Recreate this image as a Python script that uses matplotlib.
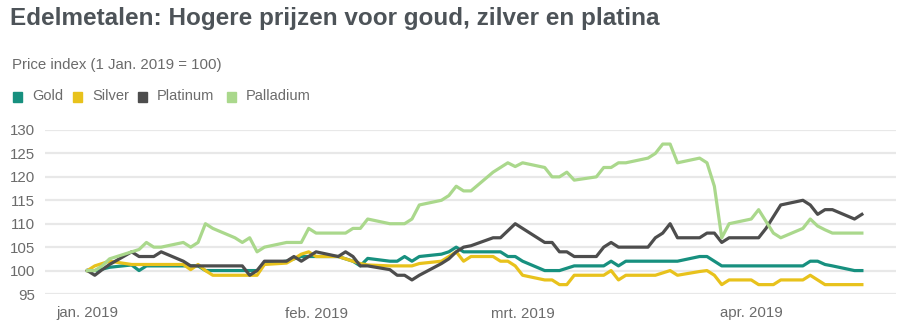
import matplotlib
matplotlib.use('Agg')
from matplotlib import pyplot as plt
from matplotlib.patches import Rectangle
import pandas as pd

# business days 1 Jan 2019 - 16 Apr 2019
dates = pd.bdate_range('2019-01-01', '2019-04-16')

gold = [100, 100, 100.3, 100.7, 101.2, 100, 101, 101, 101, 101, 101, 101, 100, 100, 100, 100, 100, 100, 101.5, 102, 102.5, 103, 103,
        103, 103, 102.5, 102, 101, 102.6, 102, 102, 103, 102, 103, 103.5, 104, 105, 104, 104, 104, 104, 103, 103,
        102, 100, 100, 100, 100.5, 101, 101, 101, 102, 101, 102, 102, 102, 102, 102, 102, 103, 103, 102, 101, 101,
        101, 101, 101, 101, 101, 101, 102, 102, 101.3, 101, 100, 100]
silver = [100, 101, 101.5, 102, 101.3, 101.3, 101.3, 101.3, 101.3, 101.3, 100.2, 101.3, 100, 99, 99, 99, 99, 99, 101.3, 101.6, 102.5, 103.5, 104,
          103, 103, 102.5, 102, 101.5, 101.2, 101, 101, 101, 101, 101.5, 102, 103, 104, 102, 103, 103, 102, 102, 101,
          99, 98, 98, 97, 97, 99, 99, 99, 100, 98, 99, 99, 99, 99.5, 100, 99, 99.8, 100, 99, 97, 98,
          98, 97, 97, 97, 98, 98, 99, 98, 97, 97, 97, 97]
platinum = [100, 99, 100.2, 101.3, 104, 103, 103, 103, 104, 102, 101, 101, 101, 101, 101, 101, 99, 100, 102, 102, 103, 102, 103,
            104, 103, 104, 103, 101, 101, 100.2, 99, 99, 98, 99, 101.5, 102.5, 104, 105, 105.3, 107, 107, 108.5, 110,
            109, 106, 106, 104, 104, 103, 103, 105, 106, 105, 105, 105, 107, 108, 110, 107, 107, 108, 108, 106, 107,
            107, 107, 109, 111.5, 114, 115, 114, 112, 113, 113, 111, 112]
palladium = [100, 100, 101, 102.5, 104, 104.5, 106, 105, 105, 106, 105, 106, 110, 109, 107, 106, 107, 104, 105, 106, 106, 106, 109,
             108, 108, 108, 109, 109, 111, 110, 110, 110, 111, 114, 115, 116, 118, 117, 117, 121, 122, 123, 122.2,
             123, 122, 120, 120, 121, 119.3, 120, 122, 122, 123, 123, 124, 125, 127, 127, 123, 124, 123, 118, 107, 110,
             111, 113, 110.5, 108, 107, 109, 111, 109.5, 108.7, 108, 108, 108]

names = ['Gold', 'Silver', 'Platinum', 'Palladium']
colors = ['#17907f', '#e8c21c', '#4d4d4d', '#aad88c']

month_ticks = ['2019-01-01', '2019-02-01', '2019-03-01', '2019-04-01']
month_labels = ['jan. 2019', 'feb. 2019', 'mrt. 2019', 'apr. 2019']
y_ticks = [95, 100, 105, 110, 115, 120, 125, 130]

title = 'Edelmetalen: Hogere prijzen voor goud, zilver en platina'
subtitle = 'Price index (1 Jan. 2019 = 100)'

plt.rcParams['font.family'] = ['Liberation Sans', 'DejaVu Sans']

fig = plt.figure(figsize=(9.24, 3.34), dpi=100)
ax = fig.add_axes([45 / 924, 1 - 294 / 334, (896 - 45) / 924, (294 - 130) / 334])

for series, name, c in zip([gold, silver, platinum, palladium], names, colors):
    ax.plot(dates, series, color=c, lw=2.3, label=name)

ax.set_xlim(pd.Timestamp('2018-12-26 06:00'), pd.Timestamp('2019-04-20 15:00'))
ax.set_ylim(95, 130)
ax.set_yticks(y_ticks)
ax.set_xticks([pd.Timestamp(t) for t in month_ticks])
ax.set_xticklabels(month_labels)
ax.grid(axis='y', color='#e8e8e8', lw=1.6)
ax.set_axisbelow(True)
for s in ax.spines.values():
    s.set_visible(False)
ax.tick_params(length=0, labelsize=10.8, colors='#6b6b6b')
ax.tick_params(axis='y', pad=7)
ax.tick_params(axis='x', pad=9)

fig.text(10 / 924, 1 - 7 / 334, title, fontsize=17.5, fontweight='bold', color='#4d5358', va='top')
fig.text(12 / 924, 1 - 65.5 / 334, subtitle, fontsize=10.8, color='#6b6b6b', va='center')

# legend drawn by hand
leg_x = [13, 73, 138, 227]
for x0, name, c in zip(leg_x, names, colors):
    fig.patches.append(Rectangle((x0 / 924, 1 - 101.5 / 334), 9 / 924, 9 / 334, color=c, transform=fig.transFigure))
    fig.text((x0 + 19) / 924, 1 - 96.5 / 334, name, fontsize=10.5, color='#6b6b6b', va='center')

fig.savefig('out.png', dpi=100)
